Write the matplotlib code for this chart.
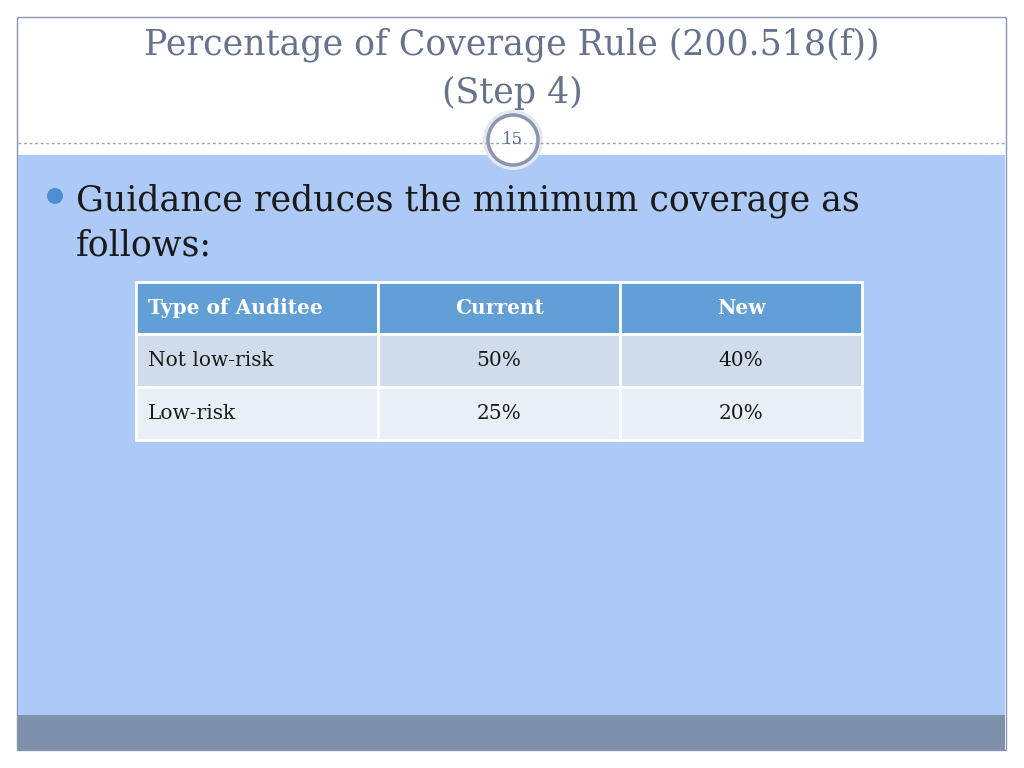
import matplotlib
matplotlib.use("Agg")
import matplotlib.pyplot as plt
from matplotlib.patches import Rectangle, Circle

title_lines = ["Percentage of Coverage Rule (200.518(f))", "(Step 4)"]
slide_number = "15"
bullet_text = ["Guidance reduces the minimum coverage as", "follows:"]
columns = ["Type of Auditee", "Current", "New"]
rows = [["Not low-risk", "50%", "40%"], ["Low-risk", "25%", "20%"]]

fig = plt.figure(figsize=(10.24, 7.68), dpi=100)
ax = fig.add_axes([0, 0, 1, 1])
ax.set_xlim(0, 1024); ax.set_ylim(768, 0); ax.axis("off")
serif = "DejaVu Serif"

ax.add_patch(Rectangle((17, 17), 989, 733, fc="white", ec="#8a96b0", lw=1))
ax.add_patch(Rectangle((18, 155), 987, 560, fc="#adc9f6", ec="none"))
ax.add_patch(Rectangle((18, 715), 987, 35, fc="#7f90aa", ec="none"))
ax.plot([18, 1005], [143, 143], ls=(0, (2, 2)), color="#9aa3b5", lw=1)
ax.add_patch(Circle((513, 140), 30, fc="#e4e8ef", ec="none"))
ax.add_patch(Circle((513, 140), 25, fc="white", ec="#8a96b0", lw=2.5))
ax.text(513, 140, slide_number, ha="center", va="center", fontsize=12, color="#5f6f8f", family=serif)

ax.text(512, 45, title_lines[0], ha="center", va="center", fontsize=25, color="#66738f", family=serif)
ax.text(512, 93, title_lines[1], ha="center", va="center", fontsize=25, color="#66738f", family=serif)

ax.add_patch(Circle((55, 196), 8, fc="#4a8fd0", ec="none"))
ax.text(76, 201, bullet_text[0], ha="left", va="center", fontsize=25, color="#1a1a1a", family=serif)
ax.text(76, 246, bullet_text[1], ha="left", va="center", fontsize=25, color="#1a1a1a", family=serif)

xs = [136, 378, 620, 862]
ys = [282, 334, 387, 440]
fills = ["#629fd6", "#d0dcea", "#e9eff7"]
data = [columns] + rows
for r in range(3):
    for c in range(3):
        ax.add_patch(Rectangle((xs[c], ys[r]), xs[c+1]-xs[c], ys[r+1]-ys[r], fc=fills[r], ec="white", lw=2))
        txt = data[r][c]
        if c == 0:
            x, ha = xs[c] + 12, "left"
        else:
            x, ha = (xs[c] + xs[c+1]) / 2, "center"
        ax.text(x, (ys[r] + ys[r+1]) / 2, txt, ha=ha, va="center", fontsize=14.5,
                color="white" if r == 0 else "#1a1a1a", weight="bold" if r == 0 else "normal", family=serif)

fig.savefig("out.png", dpi=100)
